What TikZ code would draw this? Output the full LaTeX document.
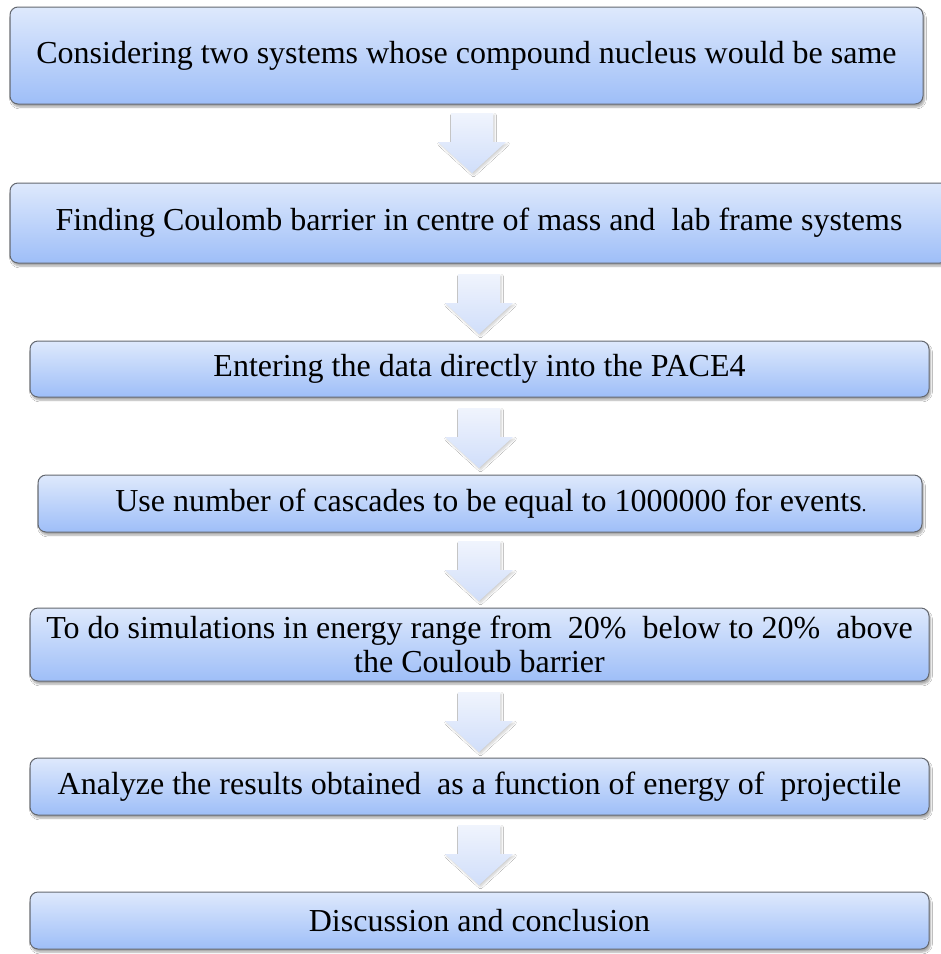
\documentclass[tikz,border=0pt]{standalone}
\usepackage{fontspec}
\setmainfont{Liberation Serif}
\usetikzlibrary{shadows.blur}
\definecolor{boxtop}{RGB}{222,233,252}
\definecolor{boxbot}{RGB}{158,190,248}
\definecolor{boxline}{RGB}{100,104,112}
\definecolor{arrtop}{RGB}{240,244,253}
\definecolor{arrbot}{RGB}{208,222,250}
\tikzset{
  stepbox/.style={rectangle, rounded corners=8pt, draw=boxline, line width=1pt,
    top color=boxtop, bottom color=boxbot, align=center, inner sep=0pt,
    font=\fontsize{32}{34}\selectfont,
    blur shadow={shadow xshift=1.5pt, shadow yshift=-3pt, shadow opacity=35, shadow blur steps=6}},
  flowarrow/.style={top color=arrtop, bottom color=arrbot, draw=none,
    blur shadow={shadow xshift=1.5pt, shadow yshift=-2pt, shadow opacity=18, shadow blur steps=5}}
}
\newcommand{\downarr}[2]{%
  \path[flowarrow] ({#1-21},#2) -- ({#1+21},#2) -- ({#1+21},{#2+29}) -- ({#1+34},{#2+29})
    -- (#1,{#2+60}) -- ({#1-34},{#2+29}) -- ({#1-21},{#2+29}) -- cycle;}
\begin{document}
\begin{tikzpicture}[x=1pt,y=-1pt]
\useasboundingbox (0,0) rectangle (941,954);
\clip (0,0) rectangle (941,954);
\fill[white] (0,0) rectangle (941,954);

\node[stepbox, minimum width=913pt, minimum height=97pt] (b1) at (466.5,55.5)
  {Considering two systems whose compound nucleus would be same};
\node[stepbox, minimum width=938pt, minimum height=80pt] (b2) at (479,223)
  {Finding Coulomb barrier in centre of mass and\ \ lab frame systems};
\node[stepbox, minimum width=899pt, minimum height=56pt] (b3) at (479.5,369)
  {Entering the data directly into the PACE4};
\node[stepbox, minimum width=884pt, minimum height=57pt] (b4) at (480,503.5)
  {\hspace*{22pt}Use number of cascades to be equal to 1000000 for events{\fontsize{20}{20}\selectfont .}};
\node[stepbox, minimum width=899pt, minimum height=73pt] (b5) at (479.5,644.5)
  {To do simulations in energy range from\ \ 20\%\ \ below to 20\%\ \ above\\the Couloub barrier};
\node[stepbox, minimum width=899pt, minimum height=57pt] (b6) at (479.5,786.5)
  {Analyze the results obtained\ \ as a function of energy of\ \ projectile};
\node[stepbox, minimum width=899pt, minimum height=57pt] (b7) at (479.5,920.5)
  {Discussion and conclusion};

\downarr{472}{113}
\downarr{479}{274}
\downarr{479}{408}
\downarr{479}{541}
\downarr{479}{692}
\downarr{479}{825}
\end{tikzpicture}
\end{document}
